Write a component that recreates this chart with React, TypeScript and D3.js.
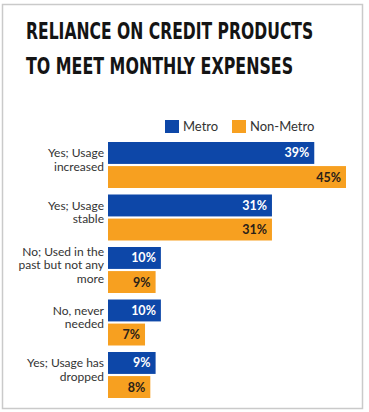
import React, { useLayoutEffect, useRef, useState } from "react";
import * as d3 from "d3";

const titleLines = ["RELIANCE ON CREDIT PRODUCTS", "TO MEET MONTHLY EXPENSES"];
const categories = [
  "Yes; Usage increased",
  "Yes; Usage stable",
  "No; Used in the past but not any more",
  "No, never needed",
  "Yes; Usage has dropped",
];
const categoryLines = [
  ["Yes; Usage", "increased"],
  ["Yes; Usage", "stable"],
  ["No; Used in the", "past but not any", "more"],
  ["No, never", "needed"],
  ["Yes; Usage has", "dropped"],
];
const seriesNames = ["Metro", "Non-Metro"];
const metro = [39, 31, 10, 10, 9];
const nonMetro = [45, 31, 9, 7, 8];
const colors = ["#0d47a8", "#f7a020"];
const valueTextColors = ["#ffffff", "#2a2118"];

const W = 369;
const H = 412;
const titleWidths = [287, 267];

function TitleLine({ text, y, target }: { text: string; y: number; target: number }) {
  const ref = useRef<SVGTextElement>(null);
  const [k, setK] = useState(0.78);
  useLayoutEffect(() => {
    if (ref.current) {
      const w = ref.current.getComputedTextLength();
      if (w > 0) setK(target / w);
    }
  }, [text, target]);
  return (
    <text
      ref={ref}
      transform={`translate(26,${y}) scale(${k},1)`}
      fontFamily="'Liberation Sans Narrow', 'DejaVu Sans Condensed', 'DejaVu Sans', sans-serif"
      fontWeight={700}
      fontSize={23}
      fill="#141414"
    >
      {text}
    </text>
  );
}

export default function App() {
  const x = d3.scaleLinear().domain([0, 45]).range([108, 346]);
  const y = d3
    .scaleBand<string>()
    .domain(categories)
    .range([142, 142 + 52.5 * categories.length])
    .paddingInner(0)
    .paddingOuter(0);
  const sub = d3.scaleBand<string>().domain(seriesNames).range([0, 46]).paddingInner(0.09);
  const series = [metro, nonMetro];
  const labelFont = "Lato, 'Open Sans', sans-serif";
  const lh = 13.5;

  return (
    <svg
      width={W}
      height={H}
      viewBox={`0 0 ${W} ${H}`}
      style={{ position: "absolute", left: 0, top: 0, background: "#fff" }}
    >
      <rect x={0} y={0} width={W} height={H} fill="#fff" />
      <rect x={2.5} y={4.5} width={360} height={404} fill="none" stroke="#cacaca" strokeWidth={1.5} />

      {titleLines.map((t, i) => (
        <TitleLine key={t} text={t} y={39 + i * 35} target={titleWidths[i]} />
      ))}

      {/* legend */}
      {seriesNames.map((s, i) => {
        const lx = i === 0 ? 165 : 232;
        return (
          <g key={s}>
            <rect x={lx} y={120} width={14} height={13} fill={colors[i]} />
            <text x={lx + 18} y={131} fontFamily={labelFont} fontSize={13} fill="#333">
              {s}
            </text>
          </g>
        );
      })}

      {categories.map((c, ci) => {
        const y0 = y(c) as number;
        const lines = categoryLines[ci];
        const center = y0 + 18;
        return (
          <g key={c}>
            {lines.map((ln, li) => (
              <text
                key={li}
                x={104}
                y={center - ((lines.length - 1) * lh) / 2 + li * lh + 4}
                textAnchor="end"
                fontFamily={labelFont}
                fontSize={12}
                fill="#333"
              >
                {ln}
              </text>
            ))}
            {series.map((vals, si) => {
              const by = y0 + (sub(seriesNames[si]) as number);
              const bh = sub.bandwidth();
              const v = vals[ci];
              return (
                <g key={si}>
                  <rect x={x(0)} y={by} width={x(v) - x(0)} height={bh} fill={colors[si]} />
                  <text
                    x={x(v) - 5}
                    y={by + bh / 2 + 4.5}
                    textAnchor="end"
                    fontFamily={labelFont}
                    fontWeight={700}
                    fontSize={12.5}
                    fill={valueTextColors[si]}
                  >
                    {v}%
                  </text>
                </g>
              );
            })}
          </g>
        );
      })}
    </svg>
  );
}
